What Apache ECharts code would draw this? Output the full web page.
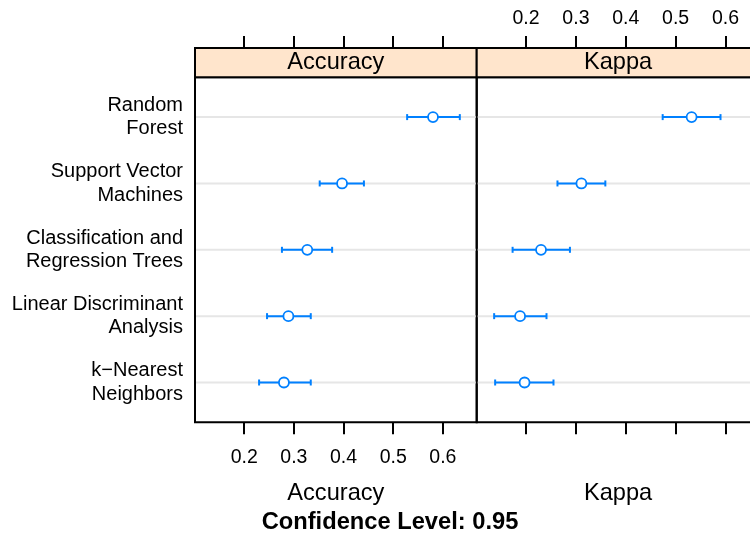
<!DOCTYPE html>
<html><head><meta charset="utf-8">
<script src="https://cdn.jsdelivr.net/npm/echarts@6/dist/echarts.min.js"></script>
<style>html,body{margin:0;padding:0;background:#fff}#c{width:750px;height:536px}</style>
</head><body><div id="c"></div>
<script>
// ---- data ----
const models = ['Random\nForest', 'Support Vector\nMachines', 'Classification and\nRegression Trees', 'Linear Discriminant\nAnalysis', 'k\u2212Nearest\nNeighbors'];
const accMean  = [0.580, 0.397, 0.327, 0.289, 0.280];
const accLower = [0.528, 0.352, 0.276, 0.246, 0.230];
const accUpper = [0.634, 0.441, 0.377, 0.334, 0.334];
const kapMean  = [0.532, 0.311, 0.230, 0.188, 0.197];
const kapLower = [0.474, 0.263, 0.173, 0.136, 0.138];
const kapUpper = [0.590, 0.359, 0.288, 0.241, 0.255];
const tickValues = [0.2, 0.3, 0.4, 0.5, 0.6];
const panels = ['Accuracy', 'Kappa'];
const confLevel = 0.95;

// ---- layout ----
const FONT = '"Liberation Sans", Arial, sans-serif';
const BLUE = '#0080ff';
const panelTop = 77.3, panelH = 345, stripH = 29.3;
const panelLeft = [195, 476.7], panelW = [281.7, 282.7];
const xMin = 0.101, xMax = 0.668;

function rows(lo, mid, hi) {
  return mid.map((m, i) => [i + 1, lo[i], m, hi[i]]);
}

function renderCI(params, api) {
  const y = api.value(0);
  const lo = api.coord([api.value(1), y]);
  const mid = api.coord([api.value(2), y]);
  const hi = api.coord([api.value(3), y]);
  const cs = params.coordSys;
  const cap = 3;
  return {
    type: 'group',
    children: [
      { type: 'line', shape: { x1: cs.x + 1, y1: mid[1], x2: cs.x + cs.width - 1, y2: mid[1] }, style: { stroke: '#e6e6e6', lineWidth: 2 } },
      { type: 'line', shape: { x1: lo[0], y1: lo[1], x2: hi[0], y2: hi[1] }, style: { stroke: BLUE, lineWidth: 2 } },
      { type: 'line', shape: { x1: lo[0], y1: lo[1] - cap, x2: lo[0], y2: lo[1] + cap }, style: { stroke: BLUE, lineWidth: 2 } },
      { type: 'line', shape: { x1: hi[0], y1: hi[1] - cap, x2: hi[0], y2: hi[1] + cap }, style: { stroke: BLUE, lineWidth: 2 } },
      { type: 'circle', shape: { cx: mid[0], cy: mid[1], r: 5 }, style: { fill: '#fff', stroke: BLUE, lineWidth: 1.8 } }
    ]
  };
}

function xAxisDef(grid, pos, showLabels) {
  return {
    gridIndex: grid, type: 'value', position: pos, min: xMin, max: xMax,
    offset: pos === 'top' ? stripH : 0,
    axisLine: { show: false }, splitLine: { show: false },
    axisTick: { show: true, inside: false, length: 12, customValues: tickValues, lineStyle: { color: '#000', width: 2 } },
    axisLabel: { show: showLabels, customValues: tickValues, formatter: v => v.toFixed(1),
      fontSize: 19.5, fontFamily: FONT, color: '#000', margin: pos === 'top' ? 19 : 25 }
  };
}

function yAxisDef(grid) {
  return {
    gridIndex: grid, type: 'value', min: 0.4, max: 5.6, inverse: true,
    axisLine: { show: false }, axisTick: { show: false }, splitLine: { show: false },
    axisLabel: grid === 0 ? {
      show: true, customValues: [1, 2, 3, 4, 5], formatter: v => models[Math.round(v) - 1],
      fontSize: 20, lineHeight: 23.3, fontFamily: FONT, color: '#000', margin: 12, align: 'right'
    } : { show: false }
  };
}

function txt(x, y, s, size, weight) {
  return { type: 'text', x: x, y: y, z: 10,
    style: { text: s, fontSize: size, fontFamily: FONT, fontWeight: weight || 'normal', fill: '#000',
      textAlign: 'center', textVerticalAlign: 'middle', align: 'center', verticalAlign: 'middle' } };
}

const graphics = [];
panels.forEach((p, i) => {
  graphics.push({ type: 'rect', z: 5, shape: { x: panelLeft[i], y: panelTop - stripH, width: panelW[i], height: stripH },
    style: { fill: '#ffe5cc', stroke: '#000', lineWidth: 2 } });
  graphics.push(txt(panelLeft[i] + panelW[i] / 2, panelTop - stripH / 2, p, 23.6));
  graphics.push(txt(panelLeft[i] + panelW[i] / 2, 493, p, 23.6));
});
graphics.push(txt(390, 522, 'Confidence Level: ' + confLevel, 23.7, 'bold'));

const chart = echarts.init(document.getElementById('c'), null, { renderer: 'canvas' });
chart.setOption({
  animation: false,
  backgroundColor: '#fff',
  grid: panels.map((p, i) => ({
    left: panelLeft[i], top: panelTop, width: panelW[i], height: panelH,
    show: true, borderColor: '#000', borderWidth: 2, backgroundColor: 'transparent',
    containLabel: false, outerBoundsMode: 'none'
  })),
  xAxis: [xAxisDef(0, 'bottom', true), xAxisDef(0, 'top', false), xAxisDef(1, 'bottom', false), xAxisDef(1, 'top', true)],
  yAxis: [yAxisDef(0), yAxisDef(1)],
  series: [
    { type: 'custom', name: panels[0], xAxisIndex: 0, yAxisIndex: 0, renderItem: renderCI,
      encode: { x: [1, 2, 3], y: 0 }, data: rows(accLower, accMean, accUpper) },
    { type: 'custom', name: panels[1], xAxisIndex: 2, yAxisIndex: 1, renderItem: renderCI,
      encode: { x: [1, 2, 3], y: 0 }, data: rows(kapLower, kapMean, kapUpper) }
  ],
  graphic: graphics
});
</script>
</body></html>
